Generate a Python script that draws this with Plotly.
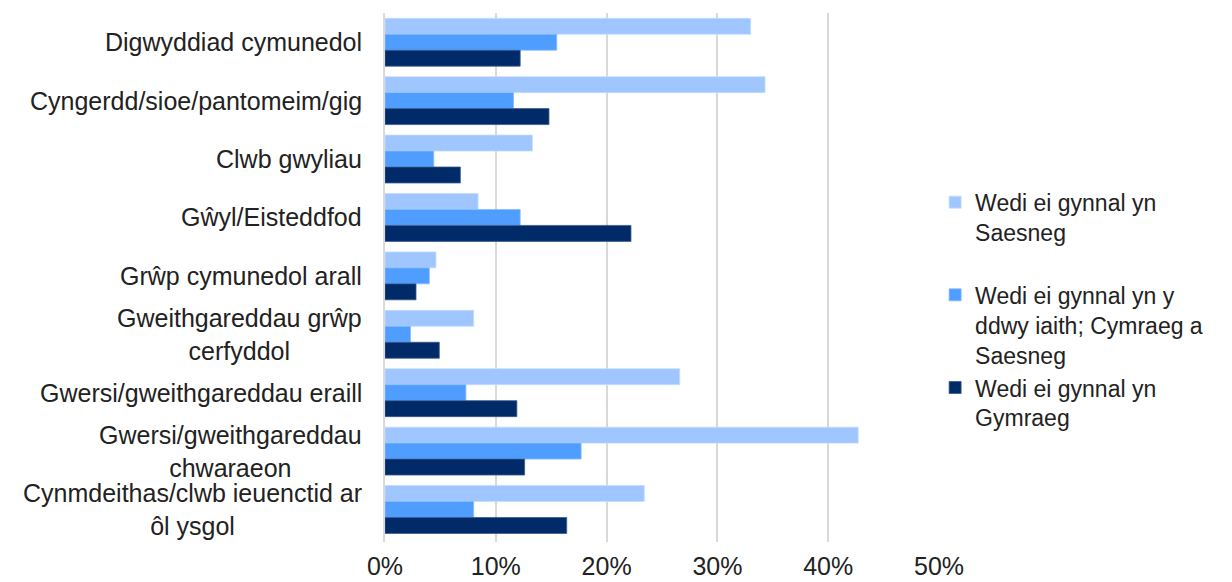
import plotly.graph_objects as go

categories = [
    "Digwyddiad cymunedol",
    "Cyngerdd/sioe/pantomeim/gig",
    "Clwb gwyliau",
    "Gŵyl/Eisteddfod",
    "Grŵp cymunedol arall",
    "Gweithgareddau grŵp<br>cerfyddol",
    "Gwersi/gweithgareddau eraill",
    "Gwersi/gweithgareddau<br>chwaraeon",
    "Cynmdeithas/clwb ieuenctid ar<br>ôl ysgol",
]
cat_keys = ["c%d" % i for i in range(len(categories))]

series_names = [
    "Wedi ei gynnal yn<br>Saesneg<br> ",
    "Wedi ei gynnal yn y<br>ddwy iaith; Cymraeg a<br>Saesneg",
    "Wedi ei gynnal yn<br>Gymraeg",
]
saesneg = [0.330, 0.343, 0.133, 0.084, 0.046, 0.080, 0.266, 0.427, 0.234]
ddwyiaith = [0.155, 0.116, 0.044, 0.122, 0.040, 0.023, 0.073, 0.177, 0.080]
cymraeg = [0.122, 0.148, 0.068, 0.222, 0.028, 0.049, 0.119, 0.126, 0.164]

tick_vals = [0, 0.1, 0.2, 0.3, 0.4, 0.5]
tick_text = ["0%", "10%", "20%", "30%", "40%", "50%"]

colors = ["#9FC6FF", "#4F9DFF", "#002B68"]
line_colors = ["#C4DCFF", "#86BBFF", "#3A5A8A"]

FONT = "Liberation Sans, Arial, sans-serif"

fig = go.Figure()
for name, vals, col, lc in zip(series_names, [saesneg, ddwyiaith, cymraeg], colors, line_colors):
    fig.add_trace(go.Bar(
        y=cat_keys, x=vals, name=name, orientation="h",
        marker=dict(color=col, line=dict(color=lc, width=0.8)),
    ))

for key, label in zip(cat_keys, categories):
    fig.add_annotation(
        x=0, xref="paper", y=key, yref="y", text=label,
        xanchor="right", yanchor="middle", align="center",
        xshift=-21, showarrow=False,
        font=dict(family=FONT, size=25, color="#222222"),
    )

fig.update_layout(
    width=1224, height=574,
    margin=dict(l=377, r=293, t=5, b=40, autoexpand=False),
    paper_bgcolor="white", plot_bgcolor="white",
    barmode="group", bargap=0.18, bargroupgap=0,
    font=dict(family=FONT, size=25, color="#222222"),
    showlegend=True,
    legend=dict(
        x=0.993, xanchor="left", y=0.683, yanchor="top",
        valign="top", traceorder="normal",
        font=dict(family=FONT, size=23, color="#222222"),
        bgcolor="rgba(0,0,0,0)",
    ),
)
fig.update_xaxes(
    range=[0, 0.5], tickvals=tick_vals, ticktext=tick_text,
    showgrid=True, gridcolor="#D9D9D9", gridwidth=1.5,
    zeroline=False, showline=False, ticks="",
    automargin=False, ticklabelstandoff=7,
    tickfont=dict(family=FONT, size=25, color="#222222"),
)
fig.update_yaxes(
    autorange="reversed", showticklabels=False, showgrid=False,
    showline=True, linecolor="#D9D9D9", linewidth=1.5, ticks="",
    automargin=False,
    categoryorder="array", categoryarray=cat_keys,
)

fig.write_html("out.html")
